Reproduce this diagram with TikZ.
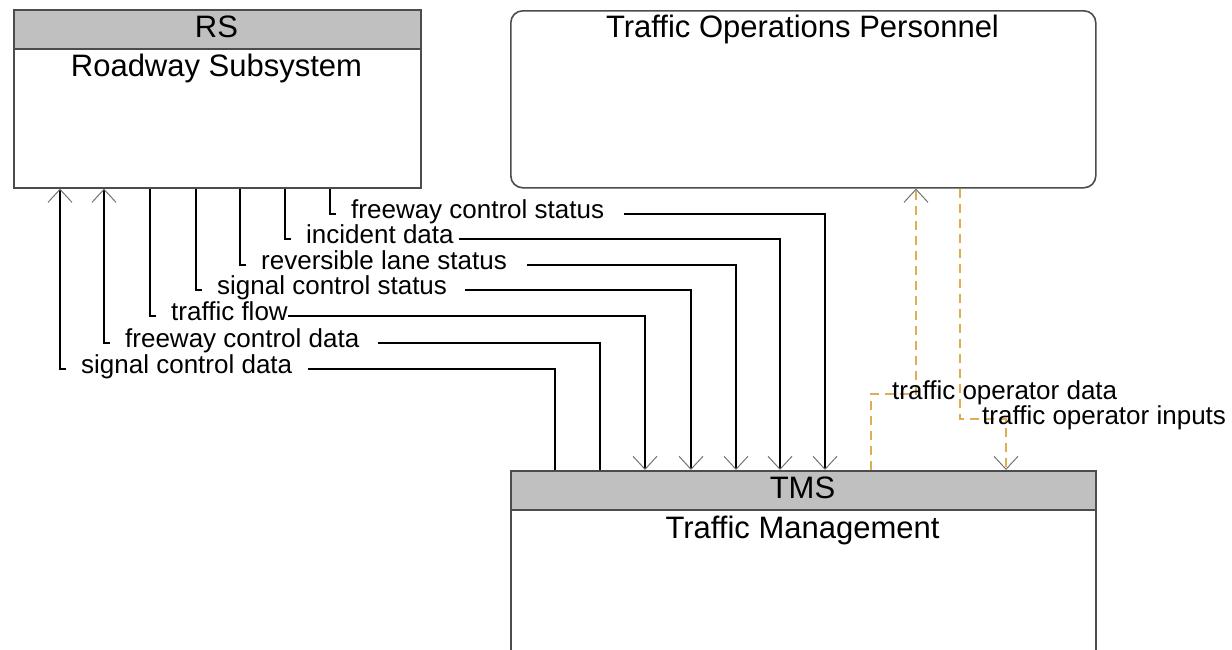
\documentclass[tikz,border=0pt]{standalone}
\usepackage{fontspec}
\setmainfont{Liberation Sans}
\usepackage{tikz}
\usetikzlibrary{arrows.meta}

\definecolor{hdrgray}{RGB}{192,192,192}
\definecolor{ifcorange}{RGB}{224,172,84}

\begin{document}
\begin{tikzpicture}[
			x=1pt,y=-1pt,
			sysbox/.style={draw=black!70,line width=1.6pt,fill=white,inner sep=0pt,anchor=north west},
			hdrbox/.style={sysbox,fill=hdrgray,minimum height=39pt},
			title/.style={font=\fontsize{31}{37}\selectfont,anchor=base,inner sep=0pt},
			lbl/.style={font=\fontsize{26}{31}\selectfont,anchor=base west,inner sep=0pt},
			flow/.style={draw=black,line width=2.6pt},
			ifc/.style={draw=ifcorange,line width=1.6pt,dash pattern=on 9pt off 6pt},
			tip/.style={-{Straight Barb[length=13pt,width=24pt,line width=1pt,color=black!55]}}]
			\useasboundingbox (0,0) rectangle (1232,649);
			\clip (0,0) rectangle (1232,649);
			\node[sysbox,minimum width=407pt,minimum height=178pt] (rs) at (13,9) {};
			\node[hdrbox,minimum width=407pt] (rshd) at (13,9) {};
			\node[title] (rsid) at (216.5,37) {RS};
			\node[title] (rsname) at (216.5,76) {Roadway Subsystem};
			\node[sysbox,rounded corners=12pt,minimum width=585pt,minimum height=177pt] (top) at (510,10) {};
			\node[title] (topname) at (802.5,37) {Traffic Operations Personnel};
			\node[sysbox,minimum width=585pt,minimum height=200pt] (tms) at (510,470) {};
			\node[hdrbox,minimum width=585pt] (tmshd) at (510,470) {};
			\node[title] (tmsid) at (802.5,498) {TMS};
			\node[title] (tmsname) at (802.5,538) {Traffic Management};
			\foreach \nm/\xr/\yl/\xt/\gp/\txt in {
				fcs/330/214/825/20/freeway control status,
				inc/285/239/780/5/incident data,
				rls/240/265/736/20/reversible lane status,
				scs/196/290/691/18/signal control status,
				tfl/150/316/645/0/traffic flow}{
				\node[lbl] (\nm) at (\xr+21,\yl+4) {\txt};
				\coordinate (\nm-s) at (\xr+6,\yl);
				\coordinate (\nm-e) at ([shift={(\gp,0)}]\nm.base east);
				\draw[flow] (rs.south -| \xr,0) |- (\nm-s);
				\draw[flow,tip] (\nm-e |- \nm-s) -| (tms.north -| \xt,0);
			}
			\foreach \nm/\xr/\yl/\xt/\gp/\txt in {
				fcd/104/343/600/18/freeway control data,
				scd/60/369/555/16/signal control data}{
				\node[lbl] (\nm) at (\xr+21,\yl+4) {\txt};
				\coordinate (\nm-s) at (\xr+6,\yl);
				\coordinate (\nm-e) at ([shift={(\gp,0)}]\nm.base east);
				\draw[flow,tip] (\nm-s) -| (rs.south -| \xr,0);
				\draw[flow] (tms.north -| \xt,0) |- (\nm-e |- \nm-s);
			}
			\coordinate (tod-k) at (916,394);
			\coordinate (toi-k) at (1006,419);
			\draw[ifc,tip] (tms.north -| 871,0) |- (tod-k) -- (top.south -| tod-k);
			\draw[ifc,tip] (top.south -| 960,0) |- (toi-k) -- (tms.north -| toi-k);
			\node[lbl] (tod) at (892,399) {traffic operator data};
			\node[lbl] (toi) at (982,424) {traffic operator inputs};
		\end{tikzpicture}
\end{document}
